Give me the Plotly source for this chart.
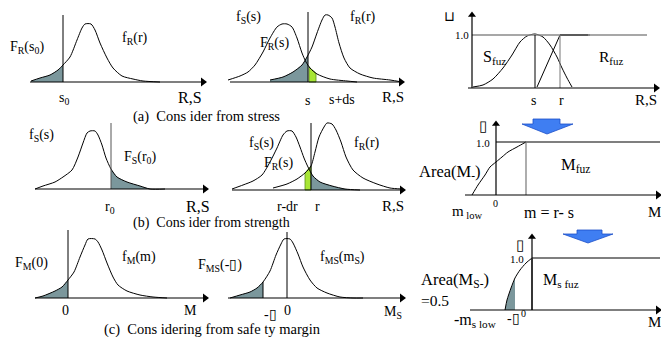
import numpy as np
import plotly.graph_objects as go

W, H = 661, 337
FONT = "Liberation Serif"
SHADE = "#7b979c"
GREEN = "#a8e636"
BLUE = "#3f7ef2"

# ---- curve data (pixel space) ----
p1_x = [31, 40, 50, 58, 63, 70, 77, 82, 85, 91, 95, 100, 107, 113, 122, 133, 143, 160]
p1_y = [81, 78, 75, 70, 65, 57, 40, 28, 24, 24, 30, 43, 58, 68, 76, 79, 81, 82]

p2s_x = [228, 240, 248, 255, 263, 270, 277, 282, 287, 292, 297, 302, 306, 310, 317, 330, 347, 357]
p2s_y = [80, 76, 72, 65, 52, 38, 27, 24, 24, 27, 38, 53, 62, 68, 74, 79, 81, 82]
p2r_x = [270, 283, 293, 302, 307, 312, 317, 322, 325, 328, 332, 335, 339, 344, 350, 360, 373, 390, 402]
p2r_y = [80, 77, 72, 65, 57, 47, 33, 20, 15, 15, 18, 27, 43, 58, 68, 74, 78, 80, 82]

p3s_x = [473, 483, 493, 503, 512, 520, 527, 535, 543, 550, 557, 562, 567, 572]
p3s_y = [87, 85, 79, 68, 55, 42, 36, 34, 37, 45, 57, 68, 78, 87]
p3r_x = [537, 560, 590]
p3r_y = [87, 35, 35]

p4_x = [35, 43, 55, 63, 72, 78, 83, 87, 90, 95, 98, 102, 106, 111, 117, 127, 140, 150, 165]
p4_y = [189, 186, 182, 177, 170, 157, 143, 133, 131, 131, 135, 145, 158, 169, 177, 182, 186, 189, 189]

p5s_x = [232, 243, 253, 262, 270, 277, 283, 287, 292, 296, 300, 304, 308, 313, 320, 332, 345, 360]
p5s_y = [189, 185, 181, 175, 162, 148, 135, 131, 131, 137, 147, 158, 167, 176, 182, 186, 189, 190]
p5r_x = [273, 287, 297, 305, 311, 315, 319, 324, 327, 332, 336, 341, 346, 353, 363, 377, 390, 402]
p5r_y = [188, 184, 179, 173, 166, 152, 137, 127, 123, 124, 130, 142, 157, 170, 178, 184, 188, 189]

p6_x = [472, 478, 485, 490, 496, 502, 508, 517, 526]
p6_y = [195, 185, 175, 167, 162, 157, 152, 147, 142]

p7_x = [35, 43, 55, 62, 68, 74, 80, 85, 88, 95, 98, 102, 107, 113, 118, 127, 140, 153, 167]
p7_y = [298, 296, 291, 287, 280, 272, 257, 245, 239, 239, 242, 250, 263, 277, 285, 291, 295, 297, 298]

p8_x = [230, 240, 250, 257, 263, 270, 276, 281, 284, 290, 293, 298, 303, 310, 317, 327, 340, 353, 363]
p8_y = [298, 295, 292, 288, 282, 271, 255, 244, 239, 239, 243, 254, 267, 280, 288, 293, 297, 298, 298]

p9_x = [505, 507, 511, 515, 520, 526, 532]
p9_y = [310, 300, 288, 278, 270, 263, 258]

arrow1_x = [533, 560, 560, 573, 547, 522, 533, 533]
arrow1_y = [119, 119, 124, 124, 134, 124, 124, 119]
arrow2_x = [577, 602, 602, 613, 588, 563, 577, 577]
arrow2_y = [230, 230, 234, 234, 243, 234, 234, 230]

fig = go.Figure()


def region(xs, ys, x0, x1, base, color, edge=None):
    xs = np.asarray(xs, float)
    ys = np.asarray(ys, float)
    inner = xs[(xs > x0) & (xs < x1)]
    px = np.concatenate([[x0], inner, [x1]])
    py = np.interp(px, xs, ys)
    polx = np.concatenate([[x0], px, [x1, x0]])
    poly = np.concatenate([[base], py, [base, base]])
    fig.add_trace(go.Scatter(x=polx, y=poly, mode="lines", fill="toself",
                             fillcolor=color,
                             line=dict(color=edge or color, width=0.8 if edge else 0),
                             hoverinfo="skip", showlegend=False))


def curve(xs, ys, color="black", width=1, spline=True):
    fig.add_trace(go.Scatter(x=xs, y=ys, mode="lines",
                             line=dict(color=color, width=width,
                                       shape="spline" if spline else "linear", smoothing=0.7),
                             hoverinfo="skip", showlegend=False))


def seg(x0, y0, x1, y1, color="black", width=1):
    curve([x0, x1], [y0, y1], color, width, spline=False)


def haxis(x0, x1, y):
    seg(x0, y, x1 - 3, y, width=1.2)
    fig.add_trace(go.Scatter(x=[x1 - 3], y=[y], mode="markers",
                             marker=dict(symbol="triangle-right", size=8, color="black"),
                             hoverinfo="skip", showlegend=False))


def vaxis(x, y0, y1):
    seg(x, y0, x, y1 + 3, width=1.2)
    fig.add_trace(go.Scatter(x=[x], y=[y1 + 3], mode="markers",
                             marker=dict(symbol="triangle-up", size=7, color="black"),
                             hoverinfo="skip", showlegend=False))


def txt(x, y, s, size=14, anchor="left"):
    fig.add_annotation(x=x, y=y, text=s, showarrow=False, xanchor=anchor, yanchor="middle",
                       font=dict(family=FONT, size=size, color="black"))


# ---- fills ----
region(p1_x, p1_y, 31, 63, 82, SHADE)
region(p2r_x, p2r_y, 270, 308, 82, SHADE)
region(p2s_x, p2s_y, 309, 316, 82, GREEN, "#5c8f1a")
region(p4_x, p4_y, 111, 160, 189, SHADE)
region(p5r_x, p5r_y, 305, 311, 190, GREEN, "#5c8f1a")
region(p5s_x, p5s_y, 311, 350, 190, SHADE)
region(p7_x, p7_y, 35, 68, 298, SHADE)
region(p8_x, p8_y, 230, 263, 298, SHADE)
region(p9_x, p9_y, 505, 515, 310, SHADE)

# ---- curves ----
for cx, cy in [(p1_x, p1_y), (p2s_x, p2s_y), (p2r_x, p2r_y), (p3s_x, p3s_y),
               (p4_x, p4_y), (p5s_x, p5s_y), (p5r_x, p5r_y), (p6_x, p6_y),
               (p7_x, p7_y), (p8_x, p8_y), (p9_x, p9_y)]:
    curve(cx, cy)
curve(p3r_x, p3r_y, spline=False)

# ---- panel lines ----
seg(63, 15, 63, 82)
seg(308, 12, 308, 82)
seg(472, 35, 647, 35, color="#8a8a8a", width=1.3)
seg(560, 35, 588, 35, color="#444", width=1.3)
seg(535, 35, 535, 88)
seg(560, 35, 560, 88, color="#777")
seg(111, 123, 111, 189, color="#555")
seg(311, 123, 311, 190)
seg(496, 142, 660, 142, width=1.1)
seg(526, 142, 526, 195, color="#777", width=1.2)
seg(68, 230, 68, 298)
seg(287, 232, 287, 298)
seg(263, 282, 263, 298)
seg(532, 258, 660, 258, width=1.1)
seg(532, 258, 532, 310, color="#666", width=1.6)

# ---- axes ----
haxis(30, 206, 82)
haxis(230, 404, 82)
haxis(468, 659, 88)
vaxis(472, 88, 12)
haxis(35, 208, 189)
haxis(232, 405, 190)
haxis(465, 661, 195)
vaxis(496, 195, 121)
haxis(35, 208, 298)
haxis(228, 405, 298)
haxis(470, 661, 310)
vaxis(532, 310, 234)

# ---- blue arrows ----
for ax_, ay_ in [(arrow1_x, arrow1_y), (arrow2_x, arrow2_y)]:
    fig.add_trace(go.Scatter(x=ax_, y=ay_, mode="lines", fill="toself", fillcolor=BLUE,
                             line=dict(color="#1d4fc8", width=0.8),
                             hoverinfo="skip", showlegend=False))

# ---- texts ----
txt(8, 47, "F<sub>R</sub>(s<sub>0</sub>)")
txt(120, 38, "f<sub>R</sub>(r)")
txt(57, 98, "s<sub>0</sub>")
txt(176, 97, "R,S", 16)
txt(131, 116, "(a)  Cons ider from stress", 14.5)

txt(234, 17, "f<sub>S</sub>(s)")
txt(258, 43, "F<sub>R</sub>(s)")
txt(348, 17, "f<sub>R</sub>(r)")
txt(307, 100, "s", 14, "center")
txt(327, 99, "s+ds")
txt(380, 97, "R,S", 15)

txt(449, 16, "⊔", 14, "center")
txt(471, 35, "1.0", 11, "right")
txt(481, 57, "S<sub>fuz</sub>", 16)
txt(597, 57, "R<sub>fuz</sub>", 15.5)
txt(533, 100, "s", 14, "center")
txt(561, 100, "r", 14, "center")
txt(633, 100, "R,S", 15)

txt(27, 135, "f<sub>S</sub>(s)")
txt(122, 157, "F<sub>S</sub>(r<sub>0</sub>)")
txt(103, 207, "r<sub>0</sub>")
txt(184, 206, "R,S", 16)
txt(131, 223, "(b)  Cons ider from strength", 14)

txt(247, 143, "f<sub>S</sub>(s)")
txt(262, 163, "F<sub>R</sub>(s)")
txt(352, 143, "f<sub>R</sub>(r)")
txt(275, 206, "r-dr")
txt(317, 206, "r", 14, "center")
txt(380, 206, "R,S", 15)

txt(483, 126, "▯", 15, "center")
txt(492, 143, "1.0", 11, "right")
txt(417, 172, "Area(M<sub>-</sub>)", 16.5)
txt(559, 165, "M<sub>fuz</sub>", 16.5)
txt(450, 212, "m<sub> low</sub>", 15)
txt(495, 203, "0", 10, "center")
txt(522, 212, "m = r- s", 16)
txt(646, 212, "M", 15)

txt(13, 263, "F<sub>M</sub>(0)")
txt(120, 257, "f<sub>M</sub>(m)")
txt(65, 310, "0", 14, "center")
txt(190, 310, "M", 14, "center")
txt(102, 329, "(c)  Cons idering from safe ty margin", 14.5)

txt(196, 265, "F<sub>MS</sub>(-▯)")
txt(318, 257, "f<sub>MS</sub>(m<sub>S</sub>)")
txt(262, 314, "-▯")
txt(287, 310, "0", 14, "center")
txt(382, 312, "M<sub>S</sub>")

txt(520, 245, "▯", 15, "center")
txt(526, 259, "1.0", 11, "right")
txt(419, 280, "Area(M<sub>S-</sub>)", 16.5)
txt(419, 300, "=0.5", 15.5)
txt(541, 280, "M<sub>s fuz</sub>", 16)
txt(452, 320, "-m<sub>s low</sub>", 16)
txt(505, 318, "-▯", 14)
txt(523, 313, "0", 10, "center")
txt(646, 322, "M", 15)

fig.update_xaxes(range=[0, W], visible=False, fixedrange=True)
fig.update_yaxes(range=[H, 0], visible=False, fixedrange=True)
fig.update_layout(width=W, height=H, margin=dict(l=0, r=0, t=0, b=0),
                  plot_bgcolor="white", paper_bgcolor="white", showlegend=False)
fig.write_html("out.html", config={"displayModeBar": False},
               post_script="document.body.style.margin='0';document.body.style.overflow='hidden';")
